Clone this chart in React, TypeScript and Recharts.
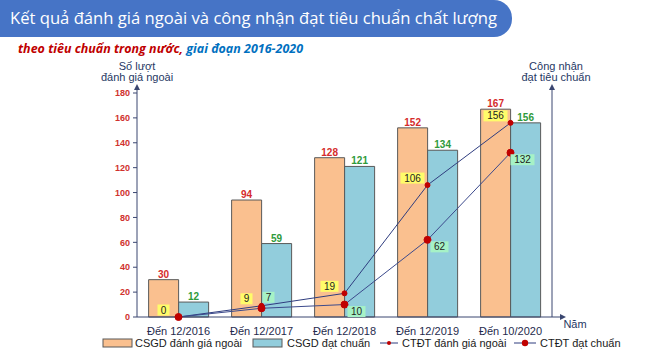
import { Bar, ComposedChart, LabelList, Line, XAxis, YAxis } from 'recharts';

const CATEGORIES = ['Đến 12/2016', 'Đến 12/2017', 'Đến 12/2018', 'Đến 12/2019', 'Đến 10/2020'];
const CSGD_DANH_GIA = [30, 94, 128, 152, 167];
const CSGD_DAT_CHUAN = [12, 59, 121, 134, 156];
const CTDT_DANH_GIA = [0, 9, 19, 106, 156];
const CTDT_DAT_CHUAN = [0, 7, 10, 62, 132];
const Y_TICKS = [0, 20, 40, 60, 80, 100, 120, 140, 160, 180];
const SERIES = ['CSGD đánh giá ngoài', 'CSGD đạt chuẩn', 'CTĐT đánh giá ngoài', 'CTĐT đạt chuẩn'];

const TITLE = 'Kết quả đánh giá ngoài và công nhận đạt tiêu chuẩn chất lượng';

const ORANGE = '#fac08f';
const BLUE = '#92cddc';
const AXIS = '#3a4670';
const RED = '#c00000';
const FONT = '"Liberation Sans", Arial, sans-serif';

const data = CATEGORIES.map((name, i) => ({
  name,
  csgdDg: CSGD_DANH_GIA[i],
  csgdDc: CSGD_DAT_CHUAN[i],
  ctdtDg: CTDT_DANH_GIA[i],
  ctdtDc: CTDT_DAT_CHUAN[i],
}));

// boxed value labels next to the line points
function BoxLabel(props: any) {
  const { x, y, value, index, fill, place } = props;
  if (value == null) return null;
  if (place === 'right' && value === 0) return null;
  const w = String(value).length * 6 + 6;
  const h = 11;
  let cx = x - 15;
  let cy = y - 7;
  if (place === 'right') {
    cx = index === 1 ? x + 7 : x + 12;
    cy = index === 1 ? y - 11 : y + 7;
  }
  return (
    <g>
      <rect x={cx - w / 2} y={cy - h / 2} width={w} height={h} fill={fill} />
      <text x={cx} y={cy} dy="0.36em" textAnchor="middle" fontSize={10} fontFamily={FONT} fill="#222">
        {value}
      </text>
    </g>
  );
}

function Arrow({ x, y, dir }: { x: number; y: number; dir: 'up' | 'right' }) {
  const pts = dir === 'up' ? `${x - 3},${y + 6} ${x},${y} ${x + 3},${y + 6}` : `${x - 6},${y - 3} ${x},${y} ${x - 6},${y + 3}`;
  return <polygon points={pts} fill={AXIS} />;
}

function LeftDecor(props: any) {
  const { x, y, width } = props.viewBox;
  const ax = x + width;
  return (
    <g>
      <line x1={ax} y1={y} x2={ax} y2={y - 5} stroke={AXIS} />
      <Arrow x={ax} y={y - 9} dir="up" />
      <text x={ax} y={y - 23} textAnchor="middle" fontSize={11} fontFamily={FONT} fill="#1f3864">Số lượt</text>
      <text x={ax} y={y - 12} textAnchor="middle" fontSize={11} fontFamily={FONT} fill="#1f3864">đánh giá ngoài</text>
    </g>
  );
}

function RightDecor(props: any) {
  const { x, y } = props.viewBox;
  return (
    <g>
      <line x1={x} y1={y} x2={x} y2={y - 5} stroke={AXIS} />
      <Arrow x={x} y={y - 9} dir="up" />
      <text x={x + 4} y={y - 23} textAnchor="middle" fontSize={11} fontFamily={FONT} fill="#1f3864">Công nhận</text>
      <text x={x + 4} y={y - 12} textAnchor="middle" fontSize={11} fontFamily={FONT} fill="#1f3864">đạt tiêu chuẩn</text>
    </g>
  );
}

function BottomDecor(props: any) {
  const { x, y, width } = props.viewBox;
  const end = x + width;
  return (
    <g>
      <line x1={end} y1={y} x2={end + 8} y2={y} stroke={AXIS} />
      <Arrow x={end + 14} y={y} dir="right" />
      <text x={end + 23} y={y + 11} textAnchor="middle" fontSize={11} fontFamily={FONT} fill="#1f3864">Năm</text>
    </g>
  );
}

function Header() {
  return (
    <svg width={660} height={60} style={{ position: 'absolute', left: 0, top: 0 }}>
      <rect x={-30} y={0} width={542} height={37} rx={18} fill="#4674c6" />
      <text x={10} y={24} fontSize={16.5} fontFamily='"Open Sans", sans-serif' fill="#fff" textLength={487} lengthAdjust="spacingAndGlyphs">
        {TITLE}
      </text>
      <text x={18} y={53} fontSize={13} fontWeight="bold" fontStyle="italic" fontFamily='"Open Sans", sans-serif' textLength={285} lengthAdjust="spacingAndGlyphs">
        <tspan fill="#c00000">theo tiêu chuẩn trong nước,</tspan>
        <tspan fill="#0070c0"> giai đoạn 2016-2020</tspan>
      </text>
    </svg>
  );
}

function LegendRow() {
  const t = { fontSize: 11, fontFamily: FONT, fill: '#1a1a1a' };
  return (
    <svg width={660} height={20} style={{ position: 'absolute', left: 0, top: 334 }}>
      <rect x={103} y={5} width={29} height={8} fill={ORANGE} stroke="#595959" />
      <text x={135} y={13} {...t}>{SERIES[0]}</text>
      <rect x={253} y={5} width={29} height={8} fill={BLUE} stroke="#595959" />
      <text x={287} y={13} {...t}>{SERIES[1]}</text>
      <line x1={380} y1={9} x2={398} y2={9} stroke="#2f3d7f" />
      <circle cx={389} cy={9} r={2} fill={RED} />
      <text x={402} y={13} {...t}>{SERIES[2]}</text>
      <line x1={514} y1={9} x2={536} y2={9} stroke="#2f3d7f" />
      <circle cx={525} cy={9} r={3.2} fill={RED} />
      <text x={540} y={13} {...t}>{SERIES[3]}</text>
    </svg>
  );
}

export default function App() {
  return (
    <div style={{ position: 'absolute', left: 0, top: 0, width: 660, height: 355, background: '#fff' }}>
      <ComposedChart
        width={660}
        height={355}
        data={data}
        margin={{ top: 93, right: 63, bottom: 18, left: 92 }}
        barCategoryGap="14%"
        barGap={0}
      >
        <XAxis
          dataKey="name"
          height={20}
          stroke={AXIS}
          tickLine={false}
          tick={{ fontSize: 11, fill: '#1f2b4d', fontFamily: FONT }}
          tickMargin={4}
          label={<BottomDecor />}
        />
        <YAxis
          yAxisId="left"
          width={45}
          domain={[0, 180]}
          ticks={Y_TICKS}
          stroke={AXIS}
          tickSize={4}
          tickMargin={3}
          tick={{ fontSize: 9, fontWeight: 'bold', fill: '#d0312d', fontFamily: FONT }}
          label={<LeftDecor />}
        />
        <YAxis
          yAxisId="right"
          orientation="right"
          width={45}
          domain={[0, 180]}
          ticks={Y_TICKS}
          stroke={AXIS}
          tickSize={4}
          tickMargin={4}
          tick={{ fontSize: 9, fontWeight: 'bold', fill: '#d0312d', fontFamily: FONT }}
          label={<RightDecor />}
        />
        <Bar yAxisId="left" dataKey="csgdDg" name={SERIES[0]} fill={ORANGE} stroke="#595959" isAnimationActive={false}>
          <LabelList dataKey="csgdDg" position="top" offset={2} fill="#d52b2b" fontSize={10} fontWeight="bold" fontFamily={FONT} />
        </Bar>
        <Bar yAxisId="left" dataKey="csgdDc" name={SERIES[1]} fill={BLUE} stroke="#595959" isAnimationActive={false}>
          <LabelList dataKey="csgdDc" position="top" offset={2} fill="#2f9a3a" fontSize={10} fontWeight="bold" fontFamily={FONT} />
        </Bar>
        <Line
          yAxisId="left"
          dataKey="ctdtDg"
          name={SERIES[2]}
          stroke="#2f3d7f"
          strokeWidth={1}
          dot={{ r: 2.5, fill: RED, stroke: RED }}
          isAnimationActive={false}
        >
          <LabelList dataKey="ctdtDg" content={(p: any) => <BoxLabel {...p} fill="#fffc6a" place="left" />} />
        </Line>
        <Line
          yAxisId="left"
          dataKey="ctdtDc"
          name={SERIES[3]}
          stroke="#3c4a8c"
          strokeWidth={1}
          dot={{ r: 3.5, fill: RED, stroke: RED }}
          isAnimationActive={false}
        >
          <LabelList dataKey="ctdtDc" content={(p: any) => <BoxLabel {...p} fill="#a6f2c6" place="right" />} />
        </Line>
      </ComposedChart>
      <Header />
      <LegendRow />
    </div>
  );
}
